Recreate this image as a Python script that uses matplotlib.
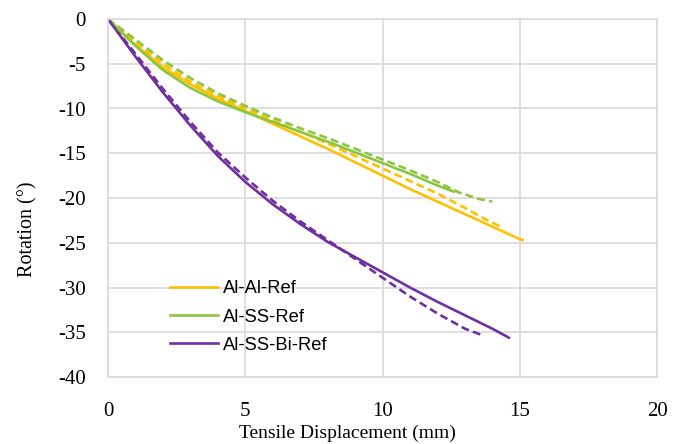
import matplotlib
matplotlib.use("Agg")
import matplotlib.pyplot as plt

plt.rcParams["axes.unicode_minus"] = False

# Rotation vs tensile displacement
al_al_x = [0, 1, 2, 3, 4, 5, 6, 7, 8, 9, 10, 11, 12, 13, 14, 15, 15.1]
al_al_y = [0, -2.9, -5.4, -7.3, -8.9, -10.3, -11.7, -13.1, -14.5, -16.0, -17.5, -19.0, -20.4, -21.8, -23.2, -24.6, -24.7]
al_al_ex_x = [0, 1, 2, 3, 4, 5, 6, 7, 8, 9, 10, 11, 12, 13, 13.7, 14.3]
al_al_ex_y = [0, -2.6, -5.0, -7.0, -8.6, -10.0, -11.3, -12.6, -13.9, -15.3, -16.7, -18.1, -19.5, -21.1, -22.3, -23.2]

al_ss_x = [0, 1, 2, 3, 4, 5, 6, 7, 8, 9, 10, 11, 12, 12.6]
al_ss_y = [0, -3.0, -5.7, -7.7, -9.2, -10.4, -11.5, -12.6, -13.7, -14.9, -16.1, -17.3, -18.6, -19.3]
al_ss_ex_x = [0, 1, 2, 3, 4, 5, 6, 7, 8, 9, 10, 11, 12, 12.8, 13.5, 14]
al_ss_ex_y = [0, -2.3, -4.6, -6.6, -8.3, -9.7, -11.0, -12.2, -13.3, -14.5, -15.7, -16.9, -18.2, -19.4, -20.1, -20.4]

al_ss_bi_x = [0, 1, 2, 3, 4, 5, 6, 7, 8, 9, 10, 11, 12, 13, 14, 14.6]
al_ss_bi_y = [0, -4.2, -8.2, -11.9, -15.3, -18.2, -20.7, -22.9, -24.9, -26.6, -28.3, -30.0, -31.6, -33.1, -34.6, -35.6]
al_ss_bi_ex_x = [0, 1, 2, 3, 4, 5, 6, 7, 8, 9, 10, 11, 12, 13, 13.7]
al_ss_bi_ex_y = [0, -3.9, -7.8, -11.5, -14.9, -17.7, -20.3, -22.6, -24.7, -26.8, -28.9, -31.0, -32.9, -34.6, -35.4]

orange = "#FFC000"
green = "#8CC63F"
purple = "#7030A0"

fig = plt.figure(figsize=(6.88, 4.44), dpi=100)
ax = fig.add_axes([108 / 688, 1 - 377 / 444, 549 / 688, 358 / 444])

dash = (0, (3, 1.6))
ax.plot(al_al_ex_x, al_al_ex_y, color=orange, lw=1.9, linestyle=dash)
ax.plot(al_ss_ex_x, al_ss_ex_y, color=green, lw=1.9, linestyle=dash)
ax.plot(al_ss_bi_ex_x, al_ss_bi_ex_y, color=purple, lw=1.9, linestyle=dash)
ax.plot(al_al_x, al_al_y, color=orange, lw=1.9, label="Al-Al-Ref")
ax.plot(al_ss_x, al_ss_y, color=green, lw=1.9, label="Al-SS-Ref")
ax.plot(al_ss_bi_x, al_ss_bi_y, color=purple, lw=1.9, label="Al-SS-Bi-Ref")

ax.set_xlim(0, 20)
ax.set_ylim(-40, 0)
ax.set_xticks([0, 5, 10, 15, 20])
ax.set_yticks(range(-40, 1, 5))
ax.grid(True, color="#D9D9D9", lw=1.2)
ax.set_axisbelow(True)
for s in ax.spines.values():
    s.set_color("#D9D9D9")
    s.set_linewidth(1.2)
ax.tick_params(length=0, labelsize=15)
ax.tick_params(axis="y", pad=16)
ax.tick_params(axis="x", pad=18)
for lab in ax.get_xticklabels() + ax.get_yticklabels():
    lab.set_family("Liberation Serif")

fig.text(347 / 688, 1 - 433 / 444, "Tensile Displacement (mm)", ha="center", va="center",
         fontsize=14, family="Liberation Serif")
fig.text(28 / 688, 1 - 229 / 444, "Rotation (°)", ha="center", va="center",
         fontsize=14.5, family="Liberation Serif", rotation=90)

ax.legend(loc="center left", bbox_to_anchor=(170 / 688, 1 - 317 / 444),
          bbox_transform=fig.transFigure, frameon=False, borderpad=0, borderaxespad=0,
          handlelength=2.6, handletextpad=0.3, labelspacing=0.62,
          prop={"family": "Liberation Sans", "size": 13.2})

fig.savefig("out.png", dpi=100)
